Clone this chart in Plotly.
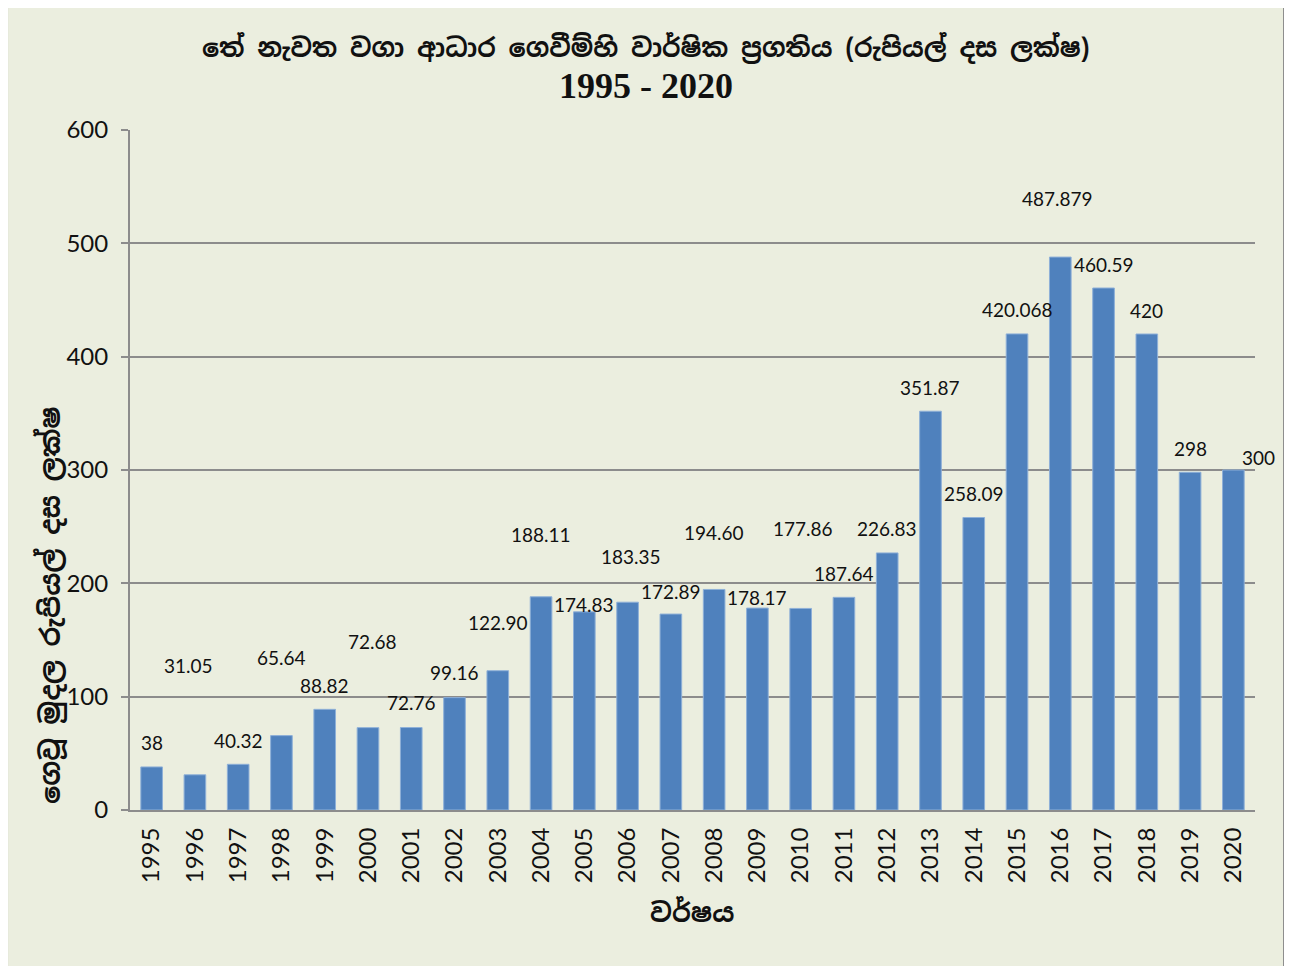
import plotly.graph_objects as go

# data
years = list(range(1995, 2021))
values = [38, 31.05, 40.32, 65.64, 88.82, 72.68, 72.76, 99.16, 122.90, 188.11,
          174.83, 183.35, 172.89, 194.60, 178.17, 177.86, 187.64, 226.83, 351.87,
          258.09, 420.068, 487.879, 460.59, 420, 298, 300]
labels = ['38', '31.05', '40.32', '65.64', '88.82', '72.68', '72.76', '99.16', '122.90',
          '188.11', '174.83', '183.35', '172.89', '194.60', '178.17', '177.86', '187.64',
          '226.83', '351.87', '258.09', '420.068', '487.879', '460.59', '420', '298', '300']

# label offsets (px) as they were dragged around in the original
label_dy = [24, 109, 24, 78, 24, 86, 25, 25, 48, 62, 7, 46, 23, 57, 11, 80,
            24, 24, 24, 24, 24, 59, 24, 24, 24, 13]
label_dx = [0, -6, 0, 0, 0, 5, 0, 0, 0, 0, 0, 3, 0, 0, 0, 2,
            0, 0, 0, 0, 0, -3, 0, 0, 0, 25]

bg = '#EBEEDF'
bar_col = '#4F81BD'
grid_col = '#8C8C8C'
num_font = 'Lato'
sin_font = 'Noto Sans Sinhala, Iskoola Pota, Noto Sans, sans-serif'

fig = go.Figure()
fig.add_trace(go.Bar(
    x=years,
    y=values,
    marker=dict(color=bar_col, line=dict(color='#8EB0D8', width=1)),
    hoverinfo='x+y',
))

for yr, v, t, dy, dx in zip(years, values, labels, label_dy, label_dx):
    fig.add_annotation(
        x=yr, y=v, text=t, showarrow=False,
        xanchor='center', yanchor='middle',
        yshift=dy, xshift=dx,
        font=dict(family=num_font, size=19, color='#111111'),
    )

# two-line title
fig.add_annotation(
    x=0.4587, y=1.122, xref='paper', yref='paper',
    text='<b>තේ නැවත වගා ආධාර ගෙවීම්හි වාර්ෂික ප්\u200dරගතිය (රුපියල් දස ලක්ෂ)</b>',
    showarrow=False, xanchor='center', yanchor='middle',
    font=dict(family=sin_font, size=25.5, color='#111111'),
)
fig.add_annotation(
    x=0.4587, y=1.065, xref='paper', yref='paper',
    text='<b>1995 - 2020</b>',
    showarrow=False, xanchor='center', yanchor='middle',
    font=dict(family='Liberation Serif', size=36, color='#111111'),
)

# axis titles placed where the original has them
fig.add_annotation(
    x=-0.0711, y=0.30, xref='paper', yref='paper',
    text='<b>ගෙවූ මුදල රුපියල් දස ලක්ෂ</b>', textangle=-90,
    showarrow=False, xanchor='center', yanchor='middle',
    font=dict(family=sin_font, size=27, color='#111111'),
)
fig.add_annotation(
    x=0.4996, y=-0.1515, xref='paper', yref='paper',
    text='<b>වර්ෂය</b>',
    showarrow=False, xanchor='center', yanchor='middle',
    font=dict(family=sin_font, size=26, color='#111111'),
)

# chart frame
fig.add_shape(
    type='rect', xref='paper', yref='paper',
    x0=-0.1093, x1=1.0258, y0=-0.2368, y1=1.1868,
    line=dict(color='#8C8C8C', width=2), layer='below',
)

fig.update_layout(
    width=1276,
    height=958,
    autosize=False,
    margin=dict(l=122, r=29, t=122, b=156),
    paper_bgcolor=bg,
    plot_bgcolor=bg,
    showlegend=False,
    bargap=0.5,
    xaxis=dict(
        range=[1994.5, 2020.5],
        tickmode='linear', tick0=1995, dtick=1,
        tickangle=-90,
        showline=True, linecolor=grid_col, linewidth=2,
        ticks='', showgrid=False, zeroline=False,
        ticklabelstandoff=6,
        tickfont=dict(family=num_font, size=24, color='#111111'),
    ),
    yaxis=dict(
        range=[0, 600],
        dtick=100,
        showline=True, linecolor=grid_col, linewidth=2,
        ticks='outside', ticklen=7, tickcolor=grid_col, tickwidth=2,
        showgrid=True, gridcolor=grid_col, gridwidth=1.5,
        zeroline=False,
        ticklabelstandoff=8,
        tickfont=dict(family=num_font, size=24, color='#111111'),
    ),
)

fig.write_html('out.html')
